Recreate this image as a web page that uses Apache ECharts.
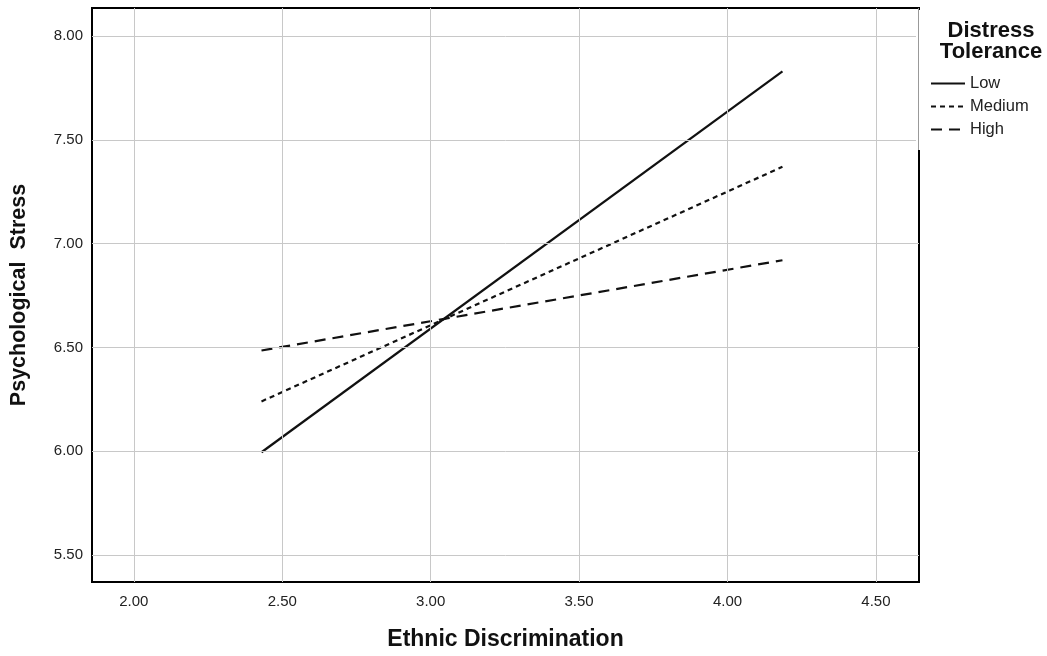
<!DOCTYPE html>
<html>
<head>
<meta charset="utf-8">
<script src="https://cdn.jsdelivr.net/npm/echarts@6/dist/echarts.min.js"></script>
<style>html,body{margin:0;padding:0;background:#fff;}#main{width:1047px;height:656px;}</style>
</head>
<body>
<div id="main"></div>
<script>
var xStart = [2.43, 4.185];
var lowValues = [5.995, 7.83];
var mediumValues = [6.24, 7.37];
var highValues = [6.485, 6.92];
var xTicks = [2.0, 2.5, 3.0, 3.5, 4.0, 4.5];
var yTicks = [5.5, 6.0, 6.5, 7.0, 7.5, 8.0];
var seriesNames = ['Low', 'Medium', 'High'];

function pairs(xs, ys) { return xs.map(function (x, i) { return [x, ys[i]]; }); }

var chart = echarts.init(document.getElementById('main'));
var font = 'Liberation Sans, Arial, sans-serif';
var gridLine = { color: '#c8c8c8', width: 1, type: 'solid' };

chart.setOption({
  animation: false,
  backgroundColor: '#fff',
  textStyle: { fontFamily: font },
  title: {
    text: 'Distress\nTolerance',
    left: 986, top: 15, textAlign: 'center',
    textStyle: { fontSize: 22, fontWeight: 'bold', color: '#111', lineHeight: 21, fontFamily: font }
  },
  legend: {
    orient: 'vertical', left: 925, top: 70,
    itemWidth: 34, itemHeight: 10, itemGap: 6,
    textStyle: { fontSize: 16.5, color: '#222', fontFamily: font, padding: [0, 0, 0, 0] },
    data: seriesNames
  },
  grid: { left: 92, right: 128, top: 8, bottom: 73, show: true, borderColor: '#000', borderWidth: 2, containLabel: false },
  xAxis: {
    type: 'value', min: 1.859, max: 4.645,
    name: 'Ethnic Discrimination', nameLocation: 'middle', nameGap: 46,
    nameTextStyle: { fontSize: 23, fontWeight: 'bold', color: '#111', fontFamily: font },
    axisLine: { show: false },
    axisTick: { show: false },
    splitLine: { show: false },
    axisLabel: { customValues: xTicks, formatter: function (v) { return v.toFixed(2); }, fontSize: 15, color: '#222', margin: 12 }
  },
  yAxis: {
    type: 'value', min: 5.37, max: 8.135,
    name: 'Psychological  Stress', nameLocation: 'middle', nameGap: 62,
    nameTextStyle: { fontSize: 21.5, fontWeight: 'bold', color: '#111', fontFamily: font },
    axisLine: { show: false },
    axisTick: { show: false },
    splitLine: { show: false },
    axisLabel: { customValues: yTicks, formatter: function (v) { return v.toFixed(2); }, fontSize: 15, color: '#222', margin: 9 }
  },
  series: [
    {
      name: 'grid', type: 'line', data: [], silent: true, z: 1,
      markLine: {
        silent: true, symbol: 'none', label: { show: false }, lineStyle: gridLine, animation: false,
        data: xTicks.map(function (v) { return { xAxis: v }; }).concat(yTicks.map(function (v) { return { yAxis: v }; }))
      }
    },
    {
      name: 'Low', type: 'line', data: pairs(xStart, lowValues), symbol: 'none', z: 3,
      lineStyle: { color: '#111', width: 2.2, type: 'solid' }, itemStyle: { color: '#111', opacity: 0 }
    },
    {
      name: 'Medium', type: 'line', data: pairs(xStart, mediumValues), symbol: 'none', z: 3,
      lineStyle: { color: '#111', width: 2.2, type: [5, 4] }, itemStyle: { color: '#111', opacity: 0 }
    },
    {
      name: 'High', type: 'line', data: pairs(xStart, highValues), symbol: 'none', z: 3,
      lineStyle: { color: '#111', width: 2.2, type: [11, 7] }, itemStyle: { color: '#111', opacity: 0 }
    }
  ],
  graphic: [
    { type: 'rect', shape: { x: 916, y: 10, width: 6, height: 140 }, style: { fill: '#fff' }, z: 100 },
    { type: 'line', shape: { x1: 918.5, y1: 8, x2: 918.5, y2: 150 }, style: { stroke: '#999', lineWidth: 1 }, z: 101 }
  ]
});
</script>
</body>
</html>
